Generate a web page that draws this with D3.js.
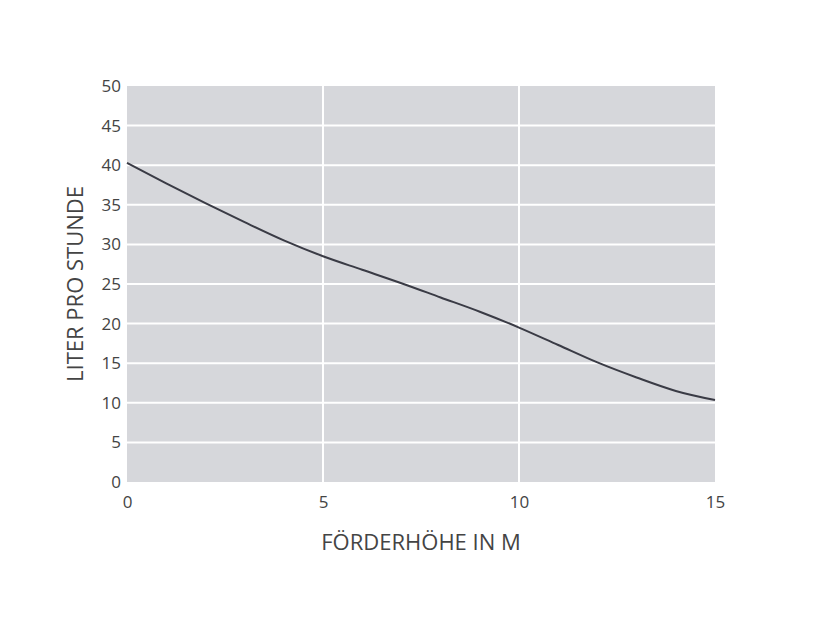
<!DOCTYPE html>
<html><head><meta charset="utf-8">
<script src="https://cdn.jsdelivr.net/npm/d3@7"></script>
<style>body{margin:0;background:#fff}svg{display:block}</style>
</head><body>
<script>
const foerderhoehe = [0,1,2,3,4,5,6,7,8,9,10,11,12,13,14,15];
const literProStunde = [40.3,37.7,35.2,32.8,30.5,28.5,26.8,25.1,23.3,21.5,19.5,17.3,15.1,13.2,11.5,10.35];
const xTicks = [0,5,10,15];
const yTicks = [0,5,10,15,20,25,30,35,40,45,50];
const xTitle = "FÖRDERHÖHE IN M";
const yTitle = "LITER PRO STUNDE";

const W=827,H=644;
const svg=d3.select("body").append("svg").attr("width",W).attr("height",H);
const x=d3.scaleLinear().domain([0,15]).range([127,715]);
const y=d3.scaleLinear().domain([0,50]).range([482,86]);
const font="'Open Sans', sans-serif";

svg.append("rect").attr("x",x(0)).attr("y",y(50)).attr("width",x(15)-x(0)).attr("height",y(0)-y(50)).attr("fill","#d6d7db");

svg.append("g").selectAll("line").data(yTicks.filter(d=>d>0&&d<50)).join("line")
 .attr("x1",x(0)).attr("x2",x(15)).attr("y1",d=>y(d)).attr("y2",d=>y(d))
 .attr("stroke","#fff").attr("stroke-width",2);
svg.append("g").selectAll("line").data(xTicks.filter(d=>d>0&&d<15)).join("line")
 .attr("x1",d=>x(d)).attr("x2",d=>x(d)).attr("y1",y(0)).attr("y2",y(50))
 .attr("stroke","#fff").attr("stroke-width",2);

const yAxis=svg.append("g").attr("transform",`translate(${x(0)},0)`)
 .call(d3.axisLeft(y).tickValues(yTicks).tickSize(0).tickPadding(6));
yAxis.select(".domain").remove();
yAxis.selectAll("text").attr("font-family",font).attr("font-size",17).attr("fill","#444");

const xAxis=svg.append("g").attr("transform",`translate(0,${y(0)})`)
 .call(d3.axisBottom(x).tickValues(xTicks).tickSize(0).tickPadding(14));
xAxis.select(".domain").remove();
xAxis.selectAll("text").attr("font-family",font).attr("font-size",17).attr("fill","#444");

const line=d3.line().x((d,i)=>x(foerderhoehe[i])).y(d=>y(d)).curve(d3.curveMonotoneX);
svg.append("path").datum(literProStunde).attr("d",line).attr("fill","none")
 .attr("stroke","#3a3b45").attr("stroke-width",2);

svg.append("text").attr("x",(x(0)+x(15))/2).attr("y",550).attr("text-anchor","middle")
 .attr("font-family",font).attr("font-size",22).attr("fill","#444").text(xTitle);
svg.append("text").attr("transform",`translate(83,${(y(0)+y(50))/2}) rotate(-90)`).attr("text-anchor","middle")
 .attr("font-family",font).attr("font-size",22).attr("fill","#444").text(yTitle);
</script>
</body></html>
